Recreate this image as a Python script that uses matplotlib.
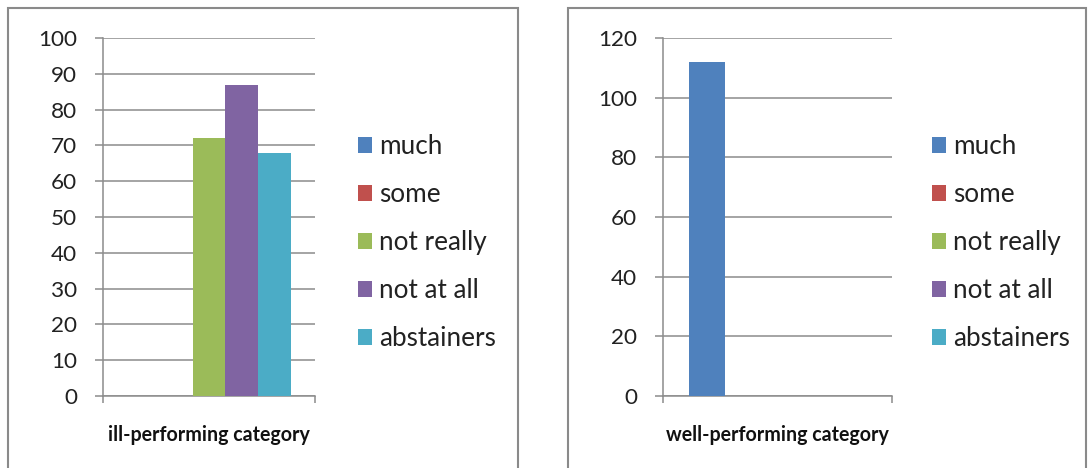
import matplotlib
matplotlib.use("Agg")
import matplotlib.pyplot as plt
from matplotlib.patches import Rectangle

# data
series = ["much", "some", "not really", "not at all", "abstainers"]
colors = ["#4F81BD", "#C0504D", "#9BBB59", "#8064A2", "#4BACC6"]
ill_values = [0, 0, 72, 87, 68]
well_values = [112, 0, 0, 0, 0]
ill_label = "ill-performing category"
well_label = "well-performing category"

plt.rcParams['font.family'] = ['Lato', 'DejaVu Sans']

W, H = 1088, 468
fig = plt.figure(figsize=(W / 100, H / 100), dpi=100)
grid_col = "#8C8C8C"


def px_axes(x0, y_top, w, y_bot):
    return fig.add_axes([x0 / W, (H - y_bot) / H, w / W, (y_bot - y_top) / H])


def panel_border(x0, x1, y0):
    fig.patches.append(Rectangle((x0 / W, -0.1), (x1 - x0) / W, (H - y0) / H + 0.1,
                                 transform=fig.transFigure, fill=False,
                                 edgecolor="#8A8A8A", linewidth=1.5))


def draw_panel(ax, values, ymax, ystep, label, leg_x):
    bw = 1 / 6.5
    for i, (v, c) in enumerate(zip(values, colors)):
        ax.bar((i - 2) * bw, v, width=bw, color=c, label=series[i],
               edgecolor="none", zorder=3)
    ax.set_xlim(-0.5, 0.5)
    ax.set_ylim(0, ymax)
    ax.set_yticks(range(0, ymax + 1, ystep))
    ax.yaxis.grid(True, color=grid_col, linewidth=1.1, zorder=0)
    ax.set_axisbelow(True)
    for s in ["top", "right"]:
        ax.spines[s].set_visible(False)
    for s in ["left", "bottom"]:
        ax.spines[s].set_color(grid_col)
        ax.spines[s].set_linewidth(1.1)
    ax.tick_params(axis="y", direction="out", length=5.7, width=1.1, color=grid_col,
                   pad=13, labelsize=16.2, labelcolor="#222222")
    ax.set_xticks([-0.5, 0.5])
    ax.set_xticklabels(["", ""])
    ax.tick_params(axis="x", which="major", direction="out", length=5.2, width=1.1,
                   color=grid_col)
    ax.set_xticks([0], minor=True)
    ax.set_xticklabels([label], minor=True)
    ax.tick_params(axis="x", which="minor", length=0, pad=21, labelsize=14.1,
                   labelcolor="#111111")
    for t in ax.get_xticklabels(minor=True):
        t.set_fontweight("bold")
    leg = ax.legend(loc="center left", bbox_to_anchor=(leg_x, 0.428), frameon=False,
                    handlelength=0.54, handleheight=0.54, handletextpad=0.27,
                    labelspacing=0.88, fontsize=18.8, borderaxespad=0, borderpad=0)
    for t in leg.get_texts():
        t.set_color("#222222")


panel_border(8, 518, 8)
panel_border(568, 1086, 8)

ax1 = px_axes(103, 38, 212, 396)
draw_panel(ax1, ill_values, 100, 10, ill_label, 1.203)

ax2 = px_axes(663, 38, 229, 396)
draw_panel(ax2, well_values, 120, 20, well_label, 1.175)

fig.savefig("out.png", dpi=100)
